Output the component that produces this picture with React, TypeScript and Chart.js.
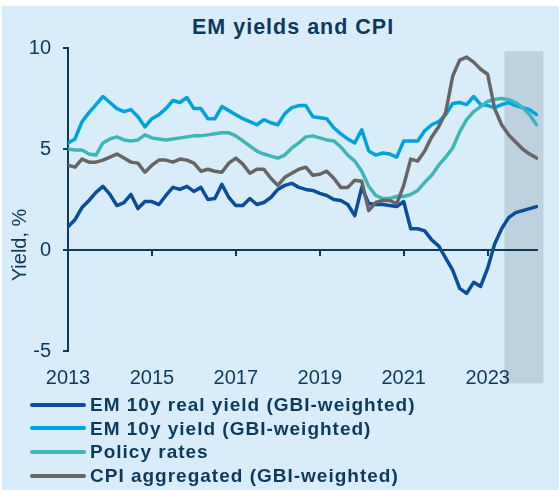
import React, { useEffect, useRef } from "react";
import { Chart, registerables } from "chart.js";

Chart.register(...registerables);

// ---- Data (bi-monthly observations) ----
const months = [
  "2013-01", "2013-03", "2013-05", "2013-07", "2013-09", "2013-11",
  "2014-01", "2014-03", "2014-05", "2014-07", "2014-09", "2014-11",
  "2015-01", "2015-03", "2015-05", "2015-07", "2015-09", "2015-11",
  "2016-01", "2016-03", "2016-05", "2016-07", "2016-09", "2016-11",
  "2017-01", "2017-03", "2017-05", "2017-07", "2017-09", "2017-11",
  "2018-01", "2018-03", "2018-05", "2018-07", "2018-09", "2018-11",
  "2019-01", "2019-03", "2019-05", "2019-07", "2019-09", "2019-11",
  "2020-01", "2020-03", "2020-05", "2020-07", "2020-09", "2020-11",
  "2021-01", "2021-03", "2021-05", "2021-07", "2021-09", "2021-11",
  "2022-01", "2022-03", "2022-05", "2022-07", "2022-09", "2022-11",
  "2023-01", "2023-03", "2023-05", "2023-07", "2023-09", "2023-11",
  "2024-01", "2024-03",
];

const realYield = [
  1.15, 1.5, 2.1, 2.45, 2.85, 3.15, 2.75, 2.2, 2.35, 2.75,
  2.05, 2.4, 2.4, 2.25, 2.7, 3.1, 3.0, 3.15, 2.9, 3.1,
  2.5, 2.55, 3.25, 2.6, 2.2, 2.2, 2.55, 2.25, 2.35, 2.6,
  3.0, 3.2, 3.3, 3.1, 3.0, 2.95, 2.8, 2.7, 2.5, 2.45,
  2.25, 1.7, 3.1, 2.3, 2.25, 2.25, 2.2, 2.15, 2.4, 1.05,
  1.05, 0.95, 0.5, 0.2, -0.4, -1.0, -1.9, -2.15, -1.6, -1.8,
  -0.9, 0.3, 1.05, 1.6, 1.85, 1.95, 2.05, 2.15,
];

const emYield = [
  5.3, 5.5, 6.35, 6.8, 7.2, 7.6, 7.3, 7.0, 6.85, 6.95,
  6.6, 6.1, 6.5, 6.7, 7.0, 7.4, 7.3, 7.55, 7.0, 7.0,
  6.5, 6.5, 7.1, 6.9, 6.7, 6.5, 6.35, 6.2, 6.45, 6.3,
  6.2, 6.75, 7.05, 7.15, 7.15, 6.6, 6.55, 6.5, 6.05, 5.75,
  5.5, 5.3, 5.95, 4.9, 4.7, 4.8, 4.75, 4.6, 5.4, 5.4,
  5.4, 5.9, 6.2, 6.35, 6.7, 7.25, 7.3, 7.2, 7.6, 7.2,
  7.15, 7.05, 7.2, 7.3, 7.15, 7.05, 6.95, 6.7,
];

const policyRates = [
  5.0, 4.95, 4.95, 4.75, 4.7, 5.3, 5.5, 5.6, 5.45, 5.4,
  5.45, 5.7, 5.55, 5.5, 5.45, 5.5, 5.55, 5.6, 5.65, 5.65,
  5.7, 5.75, 5.8, 5.8, 5.65, 5.4, 5.15, 4.9, 4.75, 4.65,
  4.55, 4.7, 5.05, 5.3, 5.6, 5.65, 5.55, 5.45, 5.4, 5.1,
  4.7, 4.4, 3.9, 3.15, 2.7, 2.55, 2.55, 2.65, 2.65, 2.75,
  2.95, 3.35, 3.7, 4.2, 4.6, 5.05, 5.85, 6.45, 6.85, 7.1,
  7.35, 7.45, 7.5, 7.45, 7.3, 7.05, 6.7, 6.2,
];

const cpiAggregated = [
  4.2, 4.1, 4.5, 4.35, 4.35, 4.45, 4.6, 4.75, 4.55, 4.35,
  4.3, 3.85, 4.2, 4.45, 4.45, 4.35, 4.5, 4.45, 4.3, 3.9,
  4.0, 3.9, 3.85, 4.3, 4.55, 4.25, 3.8, 4.0, 4.0, 3.55,
  3.2, 3.6, 3.8, 4.0, 4.1, 3.7, 3.75, 3.9, 3.55, 3.1,
  3.1, 3.45, 3.4, 1.95, 2.35, 2.45, 2.45, 2.3, 3.2, 4.5,
  4.4, 4.9, 5.6, 6.1, 6.8, 8.6, 9.4, 9.55, 9.3, 8.95,
  8.7, 7.0, 6.2, 5.7, 5.35, 5.0, 4.75, 4.55,
];

const yearTicks = [2013, 2015, 2017, 2019, 2021, 2023];
const yTicks = [-5, 0, 5, 10];
const titleText = "EM yields and CPI";
const yAxisTitle = "Yield, %";
const seriesNames = [
  "EM 10y real yield (GBI-weighted)",
  "EM 10y yield (GBI-weighted)",
  "Policy rates",
  "CPI aggregated (GBI-weighted)",
];
const forecastStart = 2023.4;
const forecastEnd = 2024.33;

// ---- Styles ----
const NAVY = "#0c3a5d";
const FONT = "'Liberation Sans', Arial, sans-serif";
const BG = "#d8ecfa";
const SHADE = "#bdd1de";
const COLORS = ["#0a4d9b", "#00a1e0", "#3db6b5", "#666666"];

const toYear = (m: string) => {
  const [y, mo] = m.split("-").map(Number);
  return y + (mo - 1) / 12;
};

const shadePlugin = {
  id: "forecastShade",
  beforeDraw(chart: any) {
    const { ctx, scales } = chart;
    const x0 = scales.x.getPixelForValue(forecastStart);
    const x1 = scales.x.getPixelForValue(forecastEnd);
    const y0 = scales.y.getPixelForValue(9.85);
    const y1 = scales.y.getPixelForValue(-6.6);
    ctx.save();
    ctx.fillStyle = SHADE;
    ctx.fillRect(x0, y0, x1 - x0, y1 - y0);
    ctx.restore();
  },
};

const axisExtrasPlugin = {
  id: "axisExtras",
  beforeDatasetsDraw(chart: any) {
    const { ctx, scales } = chart;
    const y0 = scales.y.getPixelForValue(0);
    ctx.save();
    ctx.strokeStyle = NAVY;
    ctx.lineWidth = 2;
    yearTicks.slice(1).forEach((v) => {
      const x = Math.round(scales.x.getPixelForValue(v));
      ctx.beginPath();
      ctx.moveTo(x, y0);
      ctx.lineTo(x, y0 + 6);
      ctx.stroke();
    });
    ctx.restore();
  },
  afterDraw(chart: any) {
    const { ctx, scales } = chart;
    const yc = scales.y.getPixelForValue(0.25);
    ctx.save();
    ctx.translate(18, yc);
    ctx.rotate(-Math.PI / 2);
    ctx.fillStyle = NAVY;
    ctx.font = `20px ${FONT}`;
    ctx.textAlign = "center";
    ctx.textBaseline = "middle";
    ctx.fillText(yAxisTitle, 0, 0);
    ctx.restore();
  },
};

export default function App() {
  const canvasRef = useRef<HTMLCanvasElement>(null);

  useEffect(() => {
    const xs = months.map(toYear);
    const series = [realYield, emYield, policyRates, cpiAggregated];
    const orders = [4, 3, 2, 1];
    const chart = new Chart(canvasRef.current as HTMLCanvasElement, {
      type: "line",
      data: {
        datasets: series.map((s, i) => ({
          label: seriesNames[i],
          data: s.map((v, j) => ({ x: xs[j], y: v })),
          borderColor: COLORS[i],
          backgroundColor: COLORS[i],
          borderWidth: 3.5,
          pointRadius: 0,
          tension: 0,
          fill: false,
          order: orders[i],
          borderCapStyle: "round",
          borderJoinStyle: "round",
        })),
      },
      options: {
        responsive: false,
        animation: false,
        devicePixelRatio: 1,
        layout: { padding: { left: 0, right: 21, top: 42, bottom: 0 } },
        plugins: {
          legend: { display: false },
          tooltip: { enabled: false },
          title: { display: false },
        },
        scales: {
          x: {
            type: "linear",
            min: 2013,
            max: 2024.2,
            afterBuildTicks: (s: any) => {
              s.ticks = yearTicks.map((v) => ({ value: v }));
            },
            afterFit: (s: any) => {
              s.height = 45;
            },
            grid: { display: false, drawTicks: false },
            border: { display: false },
            ticks: {
              padding: 15,
              color: NAVY,
              font: { family: FONT, size: 20 },
              maxRotation: 0,
              autoSkip: false,
              callback: (v: any) => String(v),
            },
          },
          y: {
            min: -5,
            max: 10,
            afterBuildTicks: (s: any) => {
              s.ticks = yTicks.map((v) => ({ value: v }));
            },
            afterFit: (s: any) => {
              s.width = 66;
            },
            grid: {
              color: (c: any) =>
                c.tick && c.tick.value === 0 ? NAVY : "rgba(0,0,0,0)",
              lineWidth: 2,
              tickColor: NAVY,
              tickLength: 5,
              drawTicks: true,
            },
            border: { color: NAVY, width: 2 },
            ticks: {
              padding: 12,
              color: NAVY,
              font: { family: FONT, size: 20 },
              callback: (v: any) => String(v),
            },
          },
        },
      } as any,
      plugins: [shadePlugin, axisExtrasPlugin],
    });
    return () => chart.destroy();
  }, []);

  return (
    <div
      style={{
        position: "absolute",
        left: 2,
        top: 6,
        width: 557,
        height: 484,
        background: BG,
        overflow: "hidden",
      }}
    >
      <div
        style={{
          position: "absolute",
          left: 190,
          top: 7.5,
          width: 200,
          textAlign: "center",
          fontFamily: FONT,
          fontWeight: "bold",
          fontSize: 21.5,
          letterSpacing: "1px",
          lineHeight: "26px",
          color: NAVY,
          whiteSpace: "nowrap",
        }}
      >
        {titleText}
      </div>
      <canvas
        ref={canvasRef}
        width={557}
        height={390}
        style={{ position: "absolute", left: 0, top: 0, width: 557, height: 390 }}
      />
      <div style={{ position: "absolute", left: 28, top: 387, width: 520 }}>
        {seriesNames.map((name, i) => (
          <div
            key={name}
            style={{ display: "flex", alignItems: "center", height: 23.6 }}
          >
            <div
              style={{
                width: 56,
                height: 4,
                borderRadius: 2,
                background: COLORS[i],
                marginRight: 4,
                flex: "none",
              }}
            />
            <span
              style={{
                fontFamily: FONT,
                fontWeight: "bold",
                fontSize: 19,
                letterSpacing: "1px",
                color: NAVY,
                lineHeight: "23.6px",
                whiteSpace: "nowrap",
              }}
            >
              {name}
            </span>
          </div>
        ))}
      </div>
    </div>
  );
}
